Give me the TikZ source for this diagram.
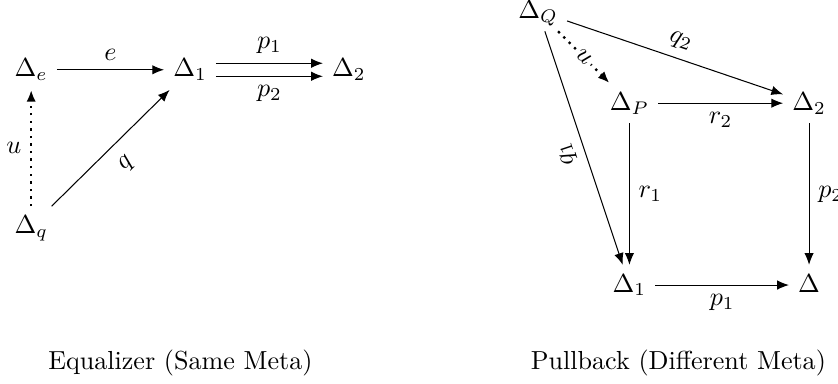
\documentclass[tikz,border=0pt]{standalone}
\usepackage{amsmath,amssymb,amsfonts}
\usepackage{tikz}
\usetikzlibrary{arrows.meta,calc}
\usepackage{xcolor}

\begin{document}
\begin{tikzpicture}[
    obj/.style={text height=1.6ex, text depth=0.35ex},
    mor/.style={-{Latex[length=4.5pt,width=3.6pt]}},
    dotmor/.style={mor, dotted, line width=0.9pt}
]
    \useasboundingbox (0,0) rectangle (11.29,-5.16);

    % Equalizer (same meta)
    \node[obj] (De) at (0.42,-0.94) {$\Delta_e$};
    \node[obj] (D1) at (2.56,-0.94) {$\Delta_1$};
    \node[obj] (D2) at (4.70,-0.94) {$\Delta_2$};
    \node[obj] (Dq) at (0.42,-3.05) {$\Delta_q$};

    \draw[mor] (De) -- node[above] {$e$} (D1);
    \draw[mor] ([yshift=2.5pt]D1.east) -- node[above] {$p_1$} ([yshift=2.5pt]D2.west);
    \draw[mor] ([yshift=-2.5pt]D1.east) -- node[below] {$p_2$} ([yshift=-2.5pt]D2.west);
    \draw[dotmor] (Dq) -- node[left] {$u$} (De);
    \draw[mor] (Dq) -- node[sloped, below=2pt] {$q$} (D1);

    \node at (2.43,-4.89) {Equalizer (Same Meta)};

    % Pullback (different meta)
    \node[obj] (DQ)  at (7.25,-0.15)  {$\Delta_Q$};
    \node[obj] (DP)  at (8.48,-1.39)  {$\Delta_P$};
    \node[obj] (D2r) at (10.90,-1.39) {$\Delta_2$};
    \node[obj] (D1r) at (8.48,-3.84)  {$\Delta_1$};
    \node[obj] (Dr)  at (10.90,-3.84) {$\Delta$};

    \draw[mor] (DP) -- node[below] {$r_2$} (D2r);
    \draw[mor] (DP) -- node[right] {$r_1$} (D1r);
    \draw[mor] (D2r) -- node[right] {$p_2$} (Dr);
    \draw[mor] (D1r) -- node[below] {$p_1$} (Dr);
    \draw[mor] (DQ) -- node[sloped, above] {$q_2$} (D2r);
    \draw[dotmor] (DQ) -- node[sloped, fill=white, inner sep=1pt] {$u$} (DP);
    \draw[{Latex[length=4.5pt,width=3.6pt]}-] (D1r) -- node[sloped, allow upside down, above] {$q_1$} (DQ);

    \node at (9.14,-4.89) {Pullback (Different Meta)};
\end{tikzpicture}
\end{document}
